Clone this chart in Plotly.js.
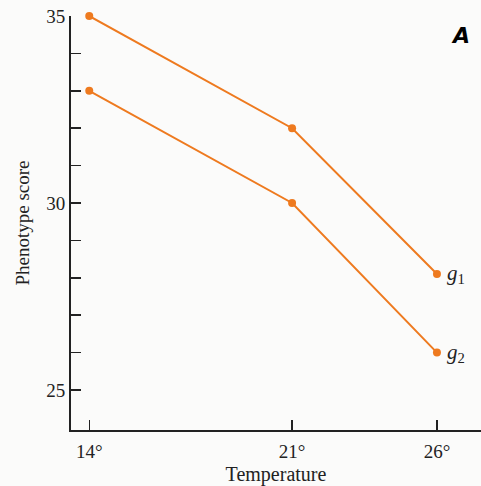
<!DOCTYPE html>
<html><head><meta charset="utf-8">
<script src="https://cdn.plot.ly/plotly-3.0.1.min.js"></script>
<style>body{margin:0;background:#fbfbfa}#c{width:481px;height:486px}</style>
</head><body><div id="c"></div>
<script>
const temps = [14, 21, 26];
const tempLabels = ['14°', '21°', '26°'];
const g1 = [35, 32, 28.1];
const g2 = [33, 30, 26];
const seriesNames = ['g', 'g'];
const seriesSubs = ['1', '2'];
const yTickVals = [25, 26, 27, 28, 29, 30, 31, 32, 33, 34, 35];
const yTickText = ['25', ' ', ' ', ' ', ' ', '30', ' ', ' ', ' ', ' ', '35'];

const orange = '#EE7A1F';
const serif = 'Liberation Serif, DejaVu Serif, serif';
const series = [g1, g2];

const traces = series.map(s => ({
  x: temps, y: s, type: 'scatter', mode: 'lines+markers',
  line: {color: orange, width: 2},
  marker: {color: orange, size: 8},
  cliponaxis: false,
  showlegend: false, hoverinfo: 'skip'
}));

const annotations = series.map((s, i) => ({
  x: temps[temps.length - 1], y: s[s.length - 1], xref: 'x', yref: 'y',
  text: '<i>' + seriesNames[i] + '</i><sub>' + seriesSubs[i] + '</sub>',
  showarrow: false, xanchor: 'left', yanchor: 'middle', xshift: 8, yshift: 0,
  font: {family: serif, size: 21, color: '#222'}
}));
annotations.push({
  xref: 'paper', yref: 'paper', x: 0.949, y: 0.954, xanchor: 'center', yanchor: 'middle',
  text: '<b><i>A</i></b>', showarrow: false,
  font: {family: 'DejaVu Sans, sans-serif', size: 22, color: '#000'}
});

const tickCommon = {ticks: 'inside', ticklen: 10, tickwidth: 1.5, tickcolor: '#222'};

const layout = {
  width: 481, height: 486,
  margin: {l: 71, r: 0, t: 16, b: 56},
  paper_bgcolor: '#fbfbfa', plot_bgcolor: '#fbfbfa',
  xaxis: Object.assign({
    range: [13.37, 27.52], tickvals: temps, ticktext: tempLabels,
    showline: true, linecolor: '#222', linewidth: 2, showgrid: false, zeroline: false,
    ticklabelstandoff: 3,
    tickfont: {family: serif, size: 19, color: '#222'},
    title: {text: 'Temperature', font: {family: serif, size: 20, color: '#222'}, standoff: 8}
  }, tickCommon),
  yaxis: Object.assign({
    range: [23.93, 35], tickvals: yTickVals, ticktext: yTickText,
    showline: true, linecolor: '#222', linewidth: 2, showgrid: false, zeroline: false,
    tickfont: {family: serif, size: 19, color: '#222'},
    title: {text: 'Phenotype score', font: {family: serif, size: 19, color: '#222'}, standoff: 12}
  }, tickCommon),
  annotations: annotations
};

Plotly.newPlot('c', traces, layout, {displayModeBar: false, staticPlot: true});
</script></body></html>
